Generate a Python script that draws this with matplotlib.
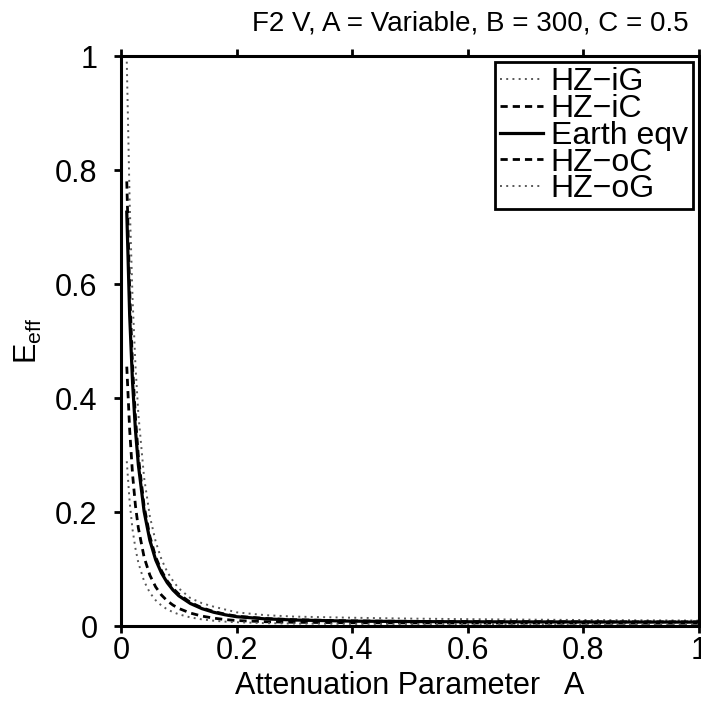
import matplotlib
matplotlib.use('Agg')
import matplotlib.pyplot as plt

plt.rcParams['font.family'] = ['Liberation Sans', 'DejaVu Sans']
plt.rcParams['mathtext.default'] = 'regular'

# attenuation parameter grid
A = [0.01, 0.015, 0.02, 0.025, 0.03, 0.04, 0.05, 0.06, 0.07, 0.08, 0.09, 0.10,
     0.12, 0.14, 0.16, 0.18, 0.20, 0.25, 0.30, 0.40, 0.50, 0.60, 0.70, 0.80, 0.90, 1.00]

# effective efficiency
hz_ig = [0.99, 0.743, 0.574, 0.457, 0.372, 0.260, 0.192, 0.148, 0.117, 0.095, 0.079, 0.066,
         0.049, 0.040, 0.034, 0.029, 0.024, 0.019, 0.0165, 0.0145, 0.013, 0.012, 0.0112, 0.0105, 0.010, 0.0095]
hz_ic = [0.78, 0.59, 0.455, 0.366, 0.298, 0.210, 0.157, 0.121, 0.097, 0.079, 0.066, 0.056,
         0.0415, 0.032, 0.0255, 0.0208, 0.0172, 0.0132, 0.011, 0.009, 0.0082, 0.0078, 0.0076, 0.0074, 0.0073, 0.0072]
earth = [0.726, 0.545, 0.427, 0.344, 0.283, 0.201, 0.150, 0.116, 0.093, 0.076, 0.063, 0.053,
         0.0395, 0.0305, 0.0242, 0.0197, 0.0163, 0.0125, 0.0105, 0.0085, 0.0078, 0.0074, 0.0072, 0.0070, 0.0069, 0.0068]
hz_oc = [0.455, 0.344, 0.266, 0.211, 0.172, 0.1206, 0.089, 0.0685, 0.0543, 0.0441, 0.0366, 0.0308,
         0.0227, 0.0174, 0.0138, 0.0113, 0.0096, 0.0075, 0.0065, 0.0057, 0.0054, 0.0052, 0.0051, 0.0050, 0.0049, 0.0048]
hz_og = [0.289, 0.217, 0.169, 0.136, 0.111, 0.0785, 0.0583, 0.0451, 0.0359, 0.0292, 0.0243, 0.0205,
         0.0151, 0.0116, 0.0093, 0.0077, 0.0066, 0.0050, 0.0043, 0.0038, 0.0036, 0.0035, 0.0034, 0.0034, 0.0033, 0.0033]

labels = ['HZ\u2212iG', 'HZ\u2212iC', 'Earth eqv', 'HZ\u2212oC', 'HZ\u2212oG']

fig = plt.figure(figsize=(7.01, 7.07), dpi=100)
ax = fig.add_axes([121/701, 1-626/707, 578/701, 570/707])

dot = dict(color='0.35', lw=1.4, ls=(0, (1.0, 2.2)))
dash = dict(color='k', lw=2.0, ls=(0, (2.6, 1.8)))
ax.plot(A, hz_ig, label=labels[0], **dot)
ax.plot(A, hz_ic, label=labels[1], **dash)
ax.plot(A, earth, label=labels[2], color='k', lw=2.3)
ax.plot(A, hz_oc, label=labels[3], **dash)
ax.plot(A, hz_og, label=labels[4], **dot)

ax.set_xlim(0, 1)
ax.set_ylim(0, 1)
ax.set_xticks([0, 0.2, 0.4, 0.6, 0.8, 1])
ax.set_xticklabels(['0', '0.2', '0.4', '0.6', '0.8', '1'])
ax.set_yticks([0, 0.2, 0.4, 0.6, 0.8, 1])
ax.set_yticklabels(['0', '0.2', '0.4', '0.6', '0.8', '1'])
ax.tick_params(direction='out', length=5, width=2, labelsize=22, pad=2,
               top=True, right=True)
ax.tick_params(axis='y', pad=12)
for s in ax.spines.values():
    s.set_linewidth(2.2)

ax.set_xlabel('Attenuation Parameter   A', fontsize=22, labelpad=4)
ax.set_ylabel('$E_{eff}$', fontsize=22, labelpad=8)
ax.set_title('F2 V, A = Variable, B = 300, C = 0.5', fontsize=20, x=0.604, pad=18)

leg = ax.legend(loc='upper right', fontsize=23, handlelength=1.35, handletextpad=0.25,
                labelspacing=-0.1, borderpad=0.15, borderaxespad=0.2,
                fancybox=False, framealpha=1, edgecolor='k')
leg.get_frame().set_linewidth(2.0)

fig.savefig('out.png', dpi=100)
